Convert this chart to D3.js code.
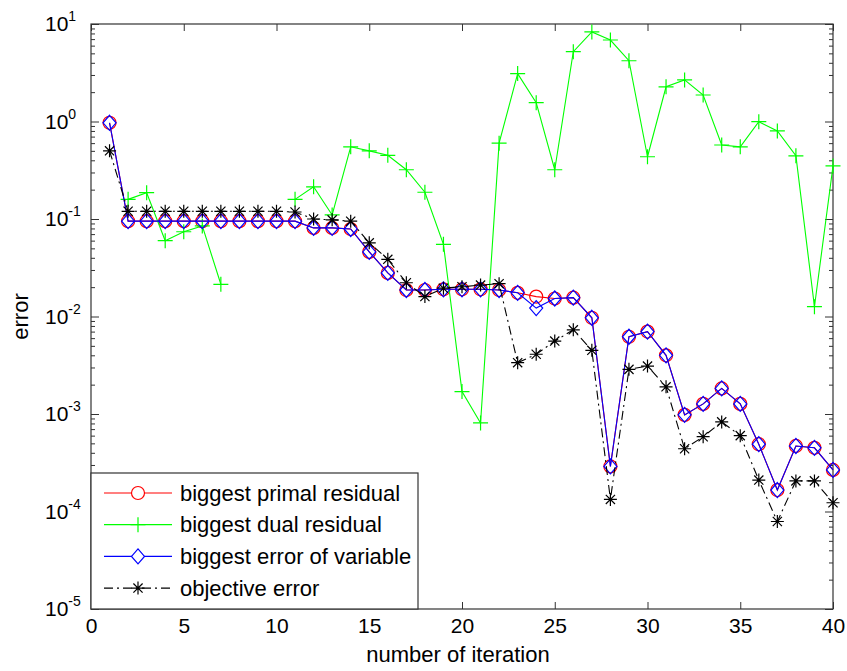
<!DOCTYPE html>
<html>
<head>
<meta charset="utf-8">
<script src="https://cdn.jsdelivr.net/npm/d3@7"></script>
<style>
body{margin:0;background:#fff;}
text{font-family:"Liberation Sans",Arial,sans-serif;fill:#000;}
</style>
</head>
<body>
<svg id="chart" width="847" height="671"></svg>
<script>
//////////////////////////////////////////////////////////////////////////////////////////////////////////////
//Data
var iterations = [1,2,3,4,5,6,7,8,9,10,11,12,13,14,15,16,17,18,19,20,21,22,23,24,25,26,27,28,29,30,31,32,33,34,35,36,37,38,39,40];
var primalResidual = [0.97,0.095,0.095,0.095,0.095,0.095,0.095,0.095,0.095,0.095,0.095,0.081,0.081,0.079,0.046,0.028,
  0.0187,0.0187,0.019,0.019,0.019,0.0187,0.0175,0.016,0.0153,0.0156,0.0097,2.9e-4,0.0062,0.007,0.004,9.8e-4,
  1.27e-3,1.83e-3,1.27e-3,4.9e-4,1.66e-4,4.7e-4,4.5e-4,2.67e-4];
var dualResidual = [null,0.159,0.186,0.06,0.074,0.085,0.0214,null,null,null,0.159,0.214,0.11,0.55,0.5,0.45,0.32,0.188,
  0.055,0.0017,8.1e-4,0.6,3.1,1.56,0.32,5.2,8.3,6.85,4.2,0.435,2.27,2.67,1.87,0.574,0.55,0.995,0.8,0.445,0.0126,0.35];
var variableError = [0.97,0.095,0.095,0.095,0.095,0.095,0.095,0.095,0.095,0.095,0.095,0.081,0.081,0.079,0.046,0.028,
  0.0187,0.0187,0.019,0.019,0.019,0.0187,0.0175,0.0122,0.0153,0.0156,0.0097,2.9e-4,0.0062,0.007,0.004,9.8e-4,
  1.27e-3,1.83e-3,1.27e-3,4.9e-4,1.66e-4,4.7e-4,4.5e-4,2.67e-4];
var objectiveError = [0.5,0.12,0.12,0.12,0.12,0.12,0.12,0.12,0.12,0.12,0.118,0.1,0.098,0.095,0.057,0.0386,0.0222,0.016,
  0.0195,0.0202,0.021,0.0217,0.00336,0.0041,0.0056,0.0073,0.0045,1.33e-4,0.00287,0.0031,0.0019,4.4e-4,5.85e-4,
  8.3e-4,6.0e-4,2.1e-4,7.9e-5,2.06e-4,2.06e-4,1.23e-4];
var xTicks = [0,5,10,15,20,25,30,35,40];
var yExponents = [-5,-4,-3,-2,-1,0,1];
var legendNames = ["biggest primal residual","biggest dual residual","biggest error of variable","objective error"];

var svg = d3.select("#chart");
var B = {left:91, right:833, top:24, bottom:609};

var x = d3.scaleLinear().domain([0,40]).range([B.left,B.right]);
var y = d3.scaleLog().domain([1e-5,10]).range([B.bottom,B.top]);

var majorY = yExponents.map(function(e){ return Math.pow(10,e); });
var minorY = [];
yExponents.slice(0,-1).forEach(function(e){
  for (var m = 2; m < 10; m++) { minorY.push(m*Math.pow(10,e)); }
});

//////////////////////////////////////////////////////////////////////////////////////////////////////////////
//Axes (matlab style, ticks inside on all four sides)
function cleanAxis(g){
  g.select(".domain").remove();
  g.selectAll(".tick line").attr("stroke","#333");
}
svg.append("g").attr("transform","translate(0,"+B.bottom+")")
  .call(d3.axisBottom(x).tickValues(xTicks).tickSize(-7).tickPadding(9).tickFormat(d3.format("d")))
  .call(cleanAxis)
  .selectAll("text").style("font-size","21px").style("font-family","'Liberation Sans',Arial,sans-serif").attr("fill","#000");
svg.append("g").attr("transform","translate(0,"+B.top+")")
  .call(d3.axisTop(x).tickValues(xTicks).tickSize(-7).tickFormat(""))
  .call(cleanAxis);
svg.append("g").attr("transform","translate("+B.left+",0)")
  .call(d3.axisLeft(y).tickValues(majorY).tickSize(-8).tickFormat(""))
  .call(cleanAxis);
svg.append("g").attr("transform","translate("+B.left+",0)")
  .call(d3.axisLeft(y).tickValues(minorY).tickSize(-4).tickFormat(""))
  .call(cleanAxis);
svg.append("g").attr("transform","translate("+B.right+",0)")
  .call(d3.axisRight(y).tickValues(majorY).tickSize(-8).tickFormat(""))
  .call(cleanAxis);
svg.append("g").attr("transform","translate("+B.right+",0)")
  .call(d3.axisRight(y).tickValues(minorY).tickSize(-4).tickFormat(""))
  .call(cleanAxis);

svg.append("rect")
  .attr("x",B.left).attr("y",B.top)
  .attr("width",B.right-B.left).attr("height",B.bottom-B.top)
  .attr("fill","none").attr("stroke","#333").attr("stroke-width",1.2);

//y tick labels 10^n
var ylab = svg.append("g").selectAll("text").data(yExponents).enter().append("text")
  .attr("x",45)
  .attr("y",function(e){ return y(Math.pow(10,e))+7; })
  .style("font-size","21px");
ylab.append("tspan").text("10");
ylab.append("tspan").attr("dy",-10).style("font-size","14px").text(function(e){ return e; });

svg.append("text")
  .attr("x",(B.left+B.right)/2-4).attr("y",662)
  .attr("text-anchor","middle").style("font-size","22px")
  .text("number of iteration");
svg.append("text")
  .attr("transform","translate(28,"+((B.top+B.bottom)/2)+") rotate(-90)")
  .attr("text-anchor","middle").style("font-size","22px")
  .text("error");

//////////////////////////////////////////////////////////////////////////////////////////////////////////////
//Markers
function markerPath(type){
  if(type=="circle") return "M-6.5,0A6.5,6.5 0 1,0 6.5,0A6.5,6.5 0 1,0 -6.5,0Z";
  if(type=="diamond") return "M0,-7.5L6.5,0L0,7.5L-6.5,0Z";
  if(type=="plus") return "M-7.5,0H7.5M0,-7.5V7.5";
  if(type=="star") return "M-6.5,0H6.5M0,-6.5V6.5M-4.6,-4.6L4.6,4.6M-4.6,4.6L4.6,-4.6";
}

var series = [
  {name:legendNames[0], values:primalResidual, color:"#ff0000", dash:null, marker:"circle"},
  {name:legendNames[1], values:dualResidual, color:"#00ff00", dash:null, marker:"plus"},
  {name:legendNames[2], values:variableError, color:"#0000ff", dash:null, marker:"diamond"},
  {name:legendNames[3], values:objectiveError, color:"#000000", dash:"9,4,2,4", marker:"star"}
];

var line = d3.line()
  .defined(function(d){ return d[1]!=null; })
  .x(function(d){ return x(d[0]); })
  .y(function(d){ return y(d[1]); });

var plot = svg.append("g");
series.forEach(function(S){
  var pts = iterations.map(function(it,i){ return [it,S.values[i]]; });
  plot.append("path").datum(pts)
    .attr("d",line)
    .attr("fill","none")
    .attr("stroke",S.color)
    .attr("stroke-width",1.1)
    .attr("stroke-dasharray",S.dash);
  plot.append("g").selectAll("path")
    .data(pts.filter(function(d){ return d[1]!=null; }))
    .enter().append("path")
    .attr("transform",function(d){ return "translate("+x(d[0])+","+y(d[1])+")"; })
    .attr("d",markerPath(S.marker))
    .attr("fill","none")
    .attr("stroke",S.color)
    .attr("stroke-width",1.2);
});

//////////////////////////////////////////////////////////////////////////////////////////////////////////////
//Legend
var leg = svg.append("g");
leg.append("rect")
  .attr("x",B.left).attr("y",473)
  .attr("width",418-B.left).attr("height",B.bottom-473)
  .attr("fill","#fff").attr("stroke","#333").attr("stroke-width",1.2);
var rows = leg.selectAll("g.row").data(series).enter().append("g")
  .attr("class","row")
  .attr("transform",function(S,i){ return "translate(0,"+(493+i*31.7)+")"; });
rows.append("line")
  .attr("x1",104).attr("x2",172)
  .attr("stroke",function(S){ return S.color; })
  .attr("stroke-width",1.2)
  .attr("stroke-dasharray",function(S){ return S.dash; });
rows.append("path")
  .attr("transform","translate(138,0)")
  .attr("d",function(S){ return markerPath(S.marker); })
  .attr("fill","#fff")
  .attr("stroke",function(S){ return S.color; })
  .attr("stroke-width",1.2);
rows.append("text")
  .attr("x",180).attr("dy","0.35em")
  .style("font-size","22px")
  .text(function(S){ return S.name; });
</script>
</body>
</html>
